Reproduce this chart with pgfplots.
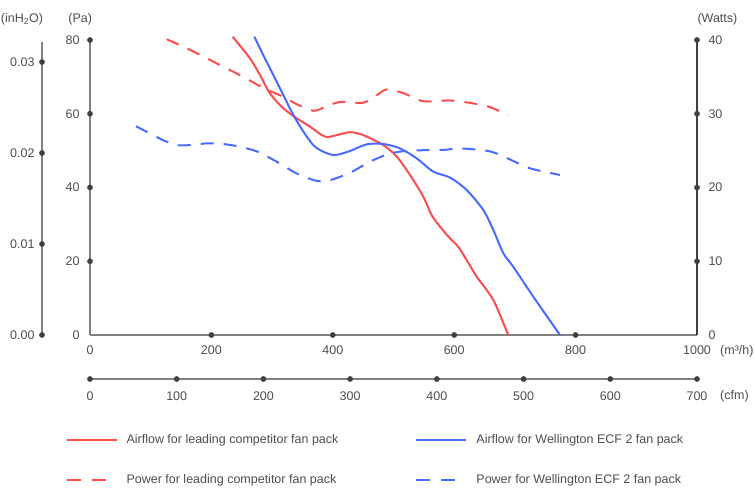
\documentclass[border=0pt]{standalone}
\usepackage{fontspec}
\setmainfont{Liberation Sans}
\usepackage{pgfplots}
\pgfplotsset{compat=1.18}
\definecolor{cred}{HTML}{FF4D4D}
\definecolor{cblue}{HTML}{4A6BFF}
\definecolor{axgray}{HTML}{808080}
\definecolor{dotgray}{HTML}{404040}
\definecolor{txt}{HTML}{4D4D4D}
\newcommand{\lf}{\fontsize{12.5}{15}\selectfont}
\pgfplotsset{
  base/.style={scale only axis, clip=false, major tick length=0pt,
    tick style={draw=none},
    /pgf/number format/assume math mode=true,
    /pgf/number format/1000 sep={},
    ticklabel style={font=\lf, text=txt},
    axis line style={draw=axgray, line width=1.3pt, -},
    every outer x axis line/.append style={-},
    every outer y axis line/.append style={-}},
  dots/.style={only marks, mark=*, mark size=2.6pt, color=dotgray, forget plot},
  curve/.style={smooth, tension=0.5, line width=2pt},
}
\begin{document}
\begin{tikzpicture}
\useasboundingbox (0,0) rectangle (755pt,499pt);
% main axis: Pa vs m3/h
\begin{axis}[base, at={(90pt,164pt)}, anchor=south west, width=607pt, height=295pt,
  xmin=0, xmax=1000, ymin=0, ymax=80,
  axis x line*=bottom, axis y line*=left,
  xtick={0,200,...,1000}, ytick={0,20,...,80},
  xticklabel style={yshift=-7.5pt}, yticklabel style={xshift=-7pt},
  legend columns=2, legend cell align=left,
  legend image code/.code={\draw[#1] (0pt,0pt) -- (50pt,0pt);},
  legend style={at={(axis description cs:-0.0456,-0.3236)}, anchor=north west,
    draw=none, fill=none, font=\lf, text=txt, row sep=25pt,
    /tikz/every odd column/.append style={column sep=7pt},
    /tikz/every even column/.append style={column sep=75pt}},
]
\addplot[curve, cred] coordinates {(235,80.9) (263.6,75.0) (280.1,70.5) (296.5,65.5) (318.4,61.5) (340.5,58.8) (362.4,56.5) (387.1,53.8) (406.4,54.2) (428.3,55.0) (450.2,54.2) (483.2,51.5) (505.3,48.4) (527.2,43.4) (549.1,37.5) (562.9,32.5) (576.6,29.4) (593.1,26.2) (606.8,23.9) (620.6,20.3) (637.1,15.8) (653.5,12.2) (667.2,8.6) (689.1,0)};
\addlegendentry{Airflow for leading competitor fan pack}
\addplot[curve, cblue] coordinates {(270.7,80.9) (285.5,75.9) (302.0,70.5) (318.4,65.1) (334.9,59.7) (351.4,55.2) (367.9,51.5) (384.3,49.7) (403.6,48.8) (428.3,49.9) (455.8,51.7) (483.2,51.8) (510.7,50.6) (538.2,47.9) (565.6,44.3) (593.1,42.7) (620.6,39.3) (647.9,33.9) (664.4,28.5) (680.9,22.2) (697.3,18.5) (730.3,10.4) (774.3,0)};
\addlegendentry{Airflow for Wellington ECF 2 fan pack}
\addlegendimage{cred, line width=2pt, dash pattern=on 14pt off 11pt}
\addlegendentry{Power for leading competitor fan pack}
\addlegendimage{cblue, line width=2pt, dash pattern=on 14pt off 11pt}
\addlegendentry{Power for Wellington ECF 2 fan pack}
\addplot[dots] coordinates {(200,0) (400,0) (600,0) (800,0) (0,20) (0,40) (0,60) (0,80)};
\end{axis}
% Watts axis
\begin{axis}[base, at={(90pt,164pt)}, anchor=south west, width=607pt, height=295pt,
  xmin=0, xmax=1000, ymin=0, ymax=40,
  axis y line*=right, axis x line=none,
  axis line style={draw=dotgray, line width=1.3pt, -},
  ytick={0,10,...,40}, yticklabel style={xshift=8pt},
]
\addplot[curve, cred, dash pattern=on 13pt off 10pt] coordinates {(126.3,40.1) (148.3,39.3) (181.2,38.0) (214.2,36.6) (252.5,35.0) (285.5,33.5) (318.4,32.3) (340.5,31.3) (367.9,30.4) (389.9,31.0) (411.9,31.6) (450.2,31.5) (472.3,32.5) (488.8,33.3) (516.1,32.8) (549.1,31.7) (593.1,31.8) (631.5,31.4) (658.9,30.9) (689.1,29.8)};
\addplot[curve, cblue, dash pattern=on 13pt off 10pt] coordinates {(75.8,28.3) (104.3,27.1) (120.8,26.4) (148.3,25.7) (197.7,26.0) (236.1,25.7) (274.6,24.9) (307.5,23.5) (340.5,21.9) (373.5,20.9) (395.4,21.0) (428.3,22.0) (461.3,23.5) (494.2,24.6) (527.2,25.0) (582.0,25.1) (609.6,25.3) (659.0,24.9) (691.9,23.8) (724.9,22.6) (774.3,21.7)};
\addplot[dots] coordinates {(1000,10) (1000,20) (1000,30) (1000,40)};
\end{axis}
% inH2O axis
\begin{axis}[base, at={(42pt,164pt)}, anchor=south west, width=10pt, height=293pt,
  xmin=0, xmax=1, ymin=0, ymax=0.0322,
  axis y line*=left, axis x line=none, scaled y ticks=false,
  ytick={0,0.01,0.02,0.03},
  yticklabel style={xshift=-4pt, /pgf/number format/.cd, fixed, fixed zerofill, precision=2},
]
\addplot[dots] coordinates {(0,0) (0,0.01) (0,0.02) (0,0.03)};
\end{axis}
% cfm axis
\begin{axis}[base, at={(90pt,120pt)}, anchor=south west, width=607pt, height=10pt,
  xmin=0, xmax=700, ymin=0, ymax=1,
  axis x line*=bottom, axis y line=none,
  xtick={0,100,...,700}, xticklabel style={yshift=-9.5pt},
]
\addplot[dots] coordinates {(0,0) (100,0) (200,0) (300,0) (400,0) (500,0) (600,0) (700,0)};
\end{axis}
\begin{scope}[every node/.style={font=\lf, text=txt, inner sep=0pt}]
\node at (22pt,479.7pt) {(inH\textsubscript{2}O)};
\node at (80.3pt,479.7pt) {(Pa)};
\node[anchor=west] at (697.3pt,480pt) {(Watts)};
\node[anchor=west] at (720pt,147.3pt) {(m³/h)};
\node[anchor=west] at (720pt,103pt) {(cfm)};
\end{scope}
\end{tikzpicture}
\end{document}
